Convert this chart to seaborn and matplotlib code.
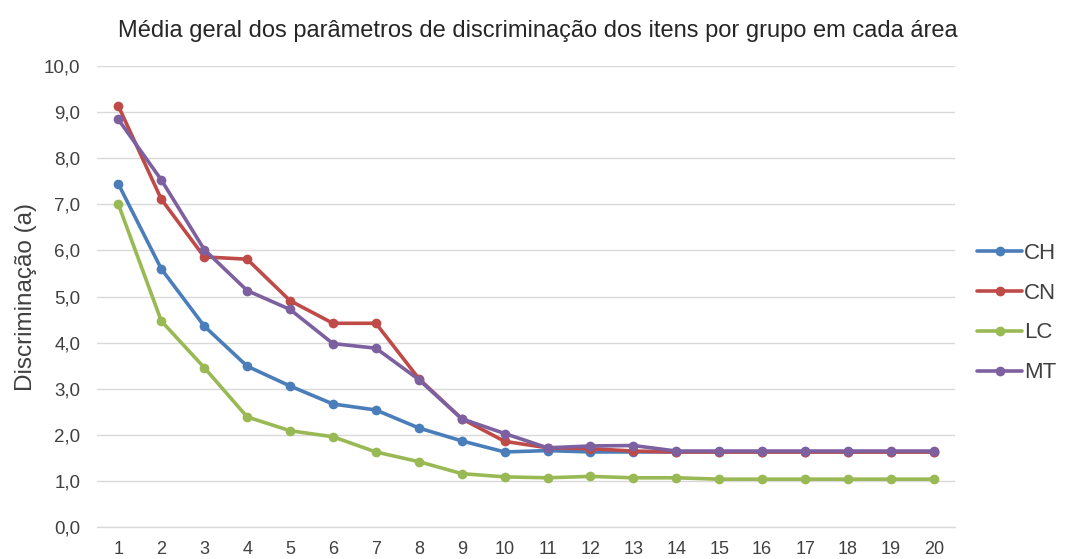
import pandas as pd
import seaborn as sns
import matplotlib.pyplot as plt
import numpy as np

# Data
itens = list(range(1, 21))
ch = [7.44, 5.60, 4.36, 3.49, 3.06, 2.67, 2.54, 2.15, 1.87, 1.63,
      1.66, 1.63, 1.63, 1.63, 1.63, 1.63, 1.63, 1.63, 1.63, 1.63]
cn = [9.13, 7.11, 5.86, 5.81, 4.91, 4.42, 4.42, 3.22, 2.35, 1.86,
      1.72, 1.70, 1.65, 1.63, 1.63, 1.63, 1.63, 1.63, 1.63, 1.63]
lc = [7.00, 4.47, 3.46, 2.39, 2.09, 1.96, 1.63, 1.42, 1.16, 1.09,
      1.07, 1.10, 1.07, 1.07, 1.04, 1.04, 1.04, 1.04, 1.04, 1.04]
mt = [8.84, 7.53, 6.02, 5.13, 4.72, 3.98, 3.88, 3.20, 2.35, 2.03,
      1.72, 1.76, 1.77, 1.65, 1.65, 1.65, 1.65, 1.65, 1.65, 1.65]
areas = ['CH', 'CN', 'LC', 'MT']
cores = ['#4A7EBB', '#BE4B48', '#98B954', '#7D60A0']

df = pd.DataFrame({'item': itens * 4,
                   'valor': ch + cn + lc + mt,
                   'area': np.repeat(areas, len(itens))})

sns.set_style('white')
plt.rcParams['font.family'] = ['Liberation Sans', 'DejaVu Sans']

fig = plt.figure(figsize=(10.65, 5.59), dpi=100)
ax = fig.add_axes([0.091, 0.057, 0.806, 0.825])

sns.lineplot(data=df, x='item', y='valor', hue='area', palette=cores,
             marker='o', markersize=7, markeredgewidth=0, linewidth=2.6,
             ax=ax, legend=False, clip_on=False)

ax.set_xlim(0.5, 20.5)
ax.set_ylim(0, 10)
ax.set_xticks(itens)
ax.set_xticklabels([str(i) for i in itens], fontsize=13, color='#404040')
yt = np.arange(0, 11)
ax.set_yticks(yt)
ax.set_yticklabels([f'{v:.1f}'.replace('.', ',') for v in yt], fontsize=13.5, color='#404040')
ax.tick_params(axis='y', length=0, pad=12)
ax.tick_params(axis='x', length=0, pad=10)
ax.yaxis.grid(True, color='#D9D9D9', linewidth=1)
ax.axhline(0, color='#D9D9D9', linewidth=1, clip_on=False, zorder=0)
ax.set_axisbelow(True)
for s in ax.spines.values():
    s.set_visible(False)

ax.set_xlabel('')
ax.set_ylabel('Discriminação (a)', fontsize=17.5, color='#404040', labelpad=5)
fig.text(0.505, 0.945, 'Média geral dos parâmetros de discriminação dos itens por grupo em cada área',
         ha='center', va='center', fontsize=17, color='#262626')

handles = [plt.Line2D([], [], color=c, marker='o', markersize=7, linewidth=2.6,
                      markeredgewidth=0) for c in cores]
fig.legend(handles, areas, loc='center left', bbox_to_anchor=(0.899, 0.44),
           frameon=False, fontsize=16, handlelength=2.0, handletextpad=0.1,
           labelspacing=0.85, labelcolor='#404040')

fig.savefig('out.png', dpi=100)
